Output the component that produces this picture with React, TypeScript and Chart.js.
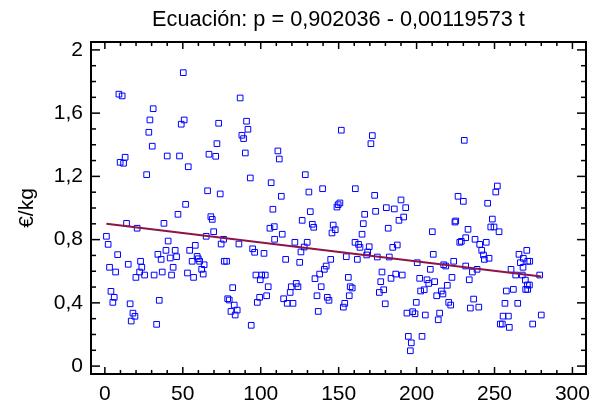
import React, { useEffect, useRef } from "react";
import { Chart, registerables } from "chart.js";

Chart.register(...registerables);

const titleText = "Ecuación: p = 0,902036 - 0,00119573 t";
const yAxisTitle = "€/kg";
const xTickValues = [0, 50, 100, 150, 200, 250, 300];
const yTickValues = [0, 0.4, 0.8, 1.2, 1.6, 2];
const fitIntercept = 0.902036;
const fitSlope = -0.00119573;
const fitRange = [1, 280];

const t1 = [50.3, 9.0, 11.1, 31.0, 28.9, 50.9, 49.0, 28.2, 30.4, 13.0, 9.8, 12.0, 40.0, 47.9, 53.5, 26.8, 51.8, 46.9, 13.9, 37.9, 20.7, 1.0, 2.1, 40.6, 8.2, 34.0, 39.2, 45.1, 36.1, 41.9, 46.0, 54.4, 22.9, 15.0, 3.0, 23.7, 6.9, 22.3, 36.8, 43.8, 25.5, 19.9, 31.6, 42.8, 53.0, 3.9, 6.0, 5.1, 34.9, 16.2, 18.0, 19.3, 16.9, 33.2];
const p1 = [1.856, 1.720, 1.709, 1.628, 1.557, 1.557, 1.530, 1.479, 1.391, 1.321, 1.289, 1.283, 1.329, 1.329, 1.261, 1.211, 1.023, 0.960, 0.903, 0.903, 0.872, 0.821, 0.770, 0.791, 0.705, 0.707, 0.732, 0.732, 0.675, 0.684, 0.692, 0.732, 0.663, 0.644, 0.625, 0.625, 0.595, 0.595, 0.595, 0.625, 0.576, 0.561, 0.576, 0.576, 0.589, 0.473, 0.435, 0.403, 0.416, 0.394, 0.335, 0.315, 0.285, 0.264];

const t2 = [86.8, 73.0, 90.9, 91.8, 87.9, 89.0, 71.9, 66.8, 71.1, 90.1, 93.3, 106.7, 65.9, 74.0, 107.8, 68.0, 68.9, 105.9, 108.7, 69.8, 65.0, 76.2, 108.9, 58.0, 74.6, 86.0, 94.8, 96.1, 102.1, 59.2, 59.9, 60.8, 56.0, 76.6, 78.1, 63.7, 62.1, 63.1, 56.9, 96.9, 100.6, 102.9, 99.7, 104.8, 82.0, 78.8, 79.8, 83.0, 99.3, 103.8, 97.8, 80.9, 84.9, 83.6, 93.9];
const p2 = [1.696, 1.536, 1.549, 1.498, 1.460, 1.439, 1.407, 1.340, 1.327, 1.348, 1.190, 1.160, 1.109, 1.089, 0.992, 0.945, 0.928, 0.872, 0.882, 0.850, 0.821, 0.802, 0.802, 0.764, 0.772, 0.772, 0.742, 0.720, 0.713, 0.694, 0.679, 0.663, 0.663, 0.663, 0.663, 0.641, 0.612, 0.582, 0.561, 0.576, 0.576, 0.576, 0.546, 0.502, 0.496, 0.426, 0.418, 0.386, 0.435, 0.445, 0.403, 0.346, 0.354, 0.323, 0.258];

const t3 = [151.7, 111.0, 111.9, 128.6, 139.7, 130.9, 160.7, 113.2, 150.8, 149.7, 148.9, 131.8, 126.6, 133.1, 134.0, 146.5, 147.8, 145.7, 113.8, 121.9, 129.8, 127.9, 125.8, 116.0, 125.0, 144.9, 154.9, 162.0, 142.0, 140.8, 137.8, 134.8, 122.8, 119.6, 123.9, 138.8, 156.2, 157.4, 158.7, 118.9, 114.7, 117.0, 120.7, 136.1, 142.7, 143.8, 156.8, 153.9, 153.0, 136.9];
const p3 = [1.492, 1.361, 1.310, 1.211, 1.122, 1.101, 1.122, 1.074, 1.032, 1.021, 1.006, 0.977, 0.922, 0.897, 0.878, 0.892, 0.863, 0.842, 0.834, 0.783, 0.783, 0.753, 0.722, 0.675, 0.656, 0.675, 0.692, 0.675, 0.633, 0.612, 0.582, 0.553, 0.523, 0.502, 0.502, 0.502, 0.561, 0.502, 0.494, 0.466, 0.426, 0.397, 0.397, 0.445, 0.435, 0.416, 0.445, 0.397, 0.373, 0.346];

const t4 = [171.6, 170.7, 173.1, 190.0, 193.0, 180.6, 185.7, 173.7, 166.7, 188.7, 191.7, 165.8, 181.8, 210.1, 165.0, 160.5, 162.8, 163.7, 169.6, 168.6, 168.0, 184.7, 187.6, 174.8, 182.5, 210.7, 200.4, 208.8, 217.4, 177.8, 186.6, 190.8, 183.6, 177.0, 202.0, 206.7, 207.8, 211.6, 178.9, 176.1, 202.6, 204.9, 215.9, 216.9, 212.9, 179.9, 199.8, 193.8, 197.5, 199.0, 205.6, 214.8, 213.9, 194.7, 203.5, 196.6, 196.0];
const p4 = [1.458, 1.407, 1.080, 1.051, 1.002, 1.002, 0.994, 0.979, 0.960, 0.922, 0.943, 0.901, 0.872, 0.850, 0.834, 0.783, 0.770, 0.751, 0.755, 0.722, 0.703, 0.751, 0.766, 0.690, 0.690, 0.707, 0.654, 0.612, 0.641, 0.595, 0.582, 0.576, 0.555, 0.534, 0.555, 0.546, 0.523, 0.534, 0.483, 0.466, 0.475, 0.483, 0.475, 0.456, 0.445, 0.394, 0.403, 0.335, 0.344, 0.331, 0.323, 0.335, 0.293, 0.188, 0.188, 0.147, 0.097];

const t5 = [230.6, 251.8, 250.8, 226.6, 230.0, 245.6, 248.6, 225.1, 224.6, 247.6, 249.7, 233.0, 252.9, 231.5, 237.5, 244.7, 228.7, 227.7, 240.5, 241.8, 242.9, 246.5, 243.5, 265.7, 270.7, 223.8, 266.6, 271.3, 218.7, 268.3, 231.5, 238.8, 235.8, 260.6, 263.6, 267.8, 222.7, 233.8, 219.7, 257.6, 262.1, 270.0, 236.6, 220.6, 221.9, 239.9, 234.5, 256.7, 264.9, 255.5, 258.9, 253.7, 255.0, 259.5];
const p5 = [1.428, 1.139, 1.101, 1.074, 1.042, 1.030, 0.930, 0.918, 0.911, 0.880, 0.880, 0.865, 0.850, 0.812, 0.802, 0.783, 0.789, 0.783, 0.770, 0.732, 0.703, 0.682, 0.675, 0.707, 0.732, 0.663, 0.654, 0.663, 0.633, 0.625, 0.633, 0.612, 0.595, 0.612, 0.576, 0.576, 0.561, 0.546, 0.511, 0.475, 0.485, 0.485, 0.424, 0.403, 0.386, 0.373, 0.367, 0.397, 0.397, 0.316, 0.316, 0.266, 0.266, 0.245];

const t6 = [272.6, 268.5, 269.8, 271.1, 272.4, 271.3, 274.5, 279.0, 280.0];
const p6 = [0.663, 0.682, 0.544, 0.513, 0.513, 0.485, 0.266, 0.576, 0.323];

const FONT = "Arial, 'Liberation Sans', sans-serif";

function fmt(v: number): string {
  if (Math.abs(v - Math.round(v)) < 1e-9) return String(Math.round(v));
  return v.toFixed(1).replace(".", ",");
}

export default function App() {
  const canvasRef = useRef<HTMLCanvasElement | null>(null);

  useEffect(() => {
    const canvas = canvasRef.current;
    if (!canvas) return;
    const tAll = [...t1, ...t2, ...t3, ...t4, ...t5, ...t6];
    const pAll = [...p1, ...p2, ...p3, ...p4, ...p5, ...p6];
    const points = tAll.map((t, i) => ({ x: t, y: pAll[i] }));
    const fitPoints = fitRange.map((t) => ({ x: t, y: fitIntercept + fitSlope * t }));

    const framePlugin = {
      id: "framePlugin",
      afterDraw(chart: any) {
        const ctx: CanvasRenderingContext2D = chart.ctx;
        const area = chart.chartArea;
        const xs = chart.scales.x;
        const ys = chart.scales.y;
        const L = Math.round(area.left);
        const R = Math.round(area.right);
        const T = Math.round(area.top);
        const B = Math.round(area.bottom);
        ctx.save();
        ctx.fillStyle = "#000000";
        // frame (2px)
        ctx.fillRect(L - 1, T - 1, R - L + 2, 2);
        ctx.fillRect(L - 1, B - 1, R - L + 2, 2);
        ctx.fillRect(L - 1, T - 1, 2, B - T + 2);
        ctx.fillRect(R - 1, T - 1, 2, B - T + 2);
        // x ticks
        for (let v = 0; v <= 300; v += 10) {
          const px = xs.getPixelForValue(v);
          const len = v % 50 === 0 ? 7 : 4;
          ctx.fillRect(px - 0.75, B - len, 1.5, len);
          ctx.fillRect(px - 0.75, T, 1.5, len);
        }
        // y ticks
        for (let k = 0; k <= 20; k++) {
          const py = ys.getPixelForValue(k / 10);
          const len = k % 4 === 0 ? 9 : 5;
          ctx.fillRect(L, py - 0.75, len, 1.5);
          ctx.fillRect(R - len, py - 0.75, len, 1.5);
        }

        ctx.font = `21.7px ${FONT}`;
        ctx.textAlign = "center";
        ctx.textBaseline = "middle";
        ctx.fillText(titleText, (L + R) / 2, 20);

        ctx.translate(27, (T + B) / 2);
        ctx.rotate(-Math.PI / 2);
        ctx.font = `21px ${FONT}`;
        ctx.fillText(yAxisTitle, 0, 0);
        ctx.restore();
      },
    };

    const chart = new Chart(canvas, {
      type: "scatter",
      data: {
        datasets: [
          {
            type: "line",
            data: fitPoints,
            borderColor: "#8c1446",
            borderWidth: 2,
            pointRadius: 0,
            fill: false,
            order: 0,
          } as any,
          {
            data: points,
            pointStyle: "rect",
            pointRadius: 4,
            pointHoverRadius: 4,
            borderColor: "#0000ff",
            pointBorderColor: "#0000ff",
            borderWidth: 1,
            backgroundColor: "rgba(0,0,0,0)",
            pointBackgroundColor: "rgba(0,0,0,0)",
            showLine: false,
            order: 1,
          } as any,
        ],
      },
      options: {
        animation: false,
        responsive: false,
        devicePixelRatio: 1,
        events: [],
        layout: { padding: { left: 0, right: 6, top: 42, bottom: 0 } },
        plugins: {
          legend: { display: false },
          title: { display: false },
          tooltip: { enabled: false },
        },
        scales: {
          x: {
            type: "linear",
            position: "bottom",
            min: -8.9,
            max: 308.7,
            grid: { display: false, drawTicks: false },
            border: { display: false },
            ticks: {
              color: "#000",
              font: { family: FONT, size: 21 },
              padding: 8,
              maxRotation: 0,
              autoSkip: false,
              callback: (v: any) => fmt(Number(v)),
            },
            afterBuildTicks: (s: any) => {
              s.ticks = xTickValues.map((v) => ({ value: v }));
            },
            afterFit: (s: any) => {
              s.height = 34;
              s.paddingLeft = 0;
              s.paddingRight = 0;
            },
          },
          y: {
            type: "linear",
            position: "left",
            min: -0.05,
            max: 2.05,
            grid: { display: false, drawTicks: false },
            border: { display: false },
            ticks: {
              color: "#000",
              font: { family: FONT, size: 21 },
              padding: 8,
              autoSkip: false,
              callback: (v: any) => fmt(Number(v)),
            },
            afterBuildTicks: (s: any) => {
              s.ticks = yTickValues.map((v) => ({ value: v }));
            },
            afterFit: (s: any) => {
              s.width = 91;
              s.paddingTop = 0;
              s.paddingBottom = 0;
            },
          },
        },
      },
      plugins: [framePlugin],
    } as any);

    return () => {
      chart.destroy();
    };
  }, []);

  return (
    <div style={{ position: "fixed", left: 0, top: 0, width: 592, height: 408, background: "#fff" }}>
      <canvas ref={canvasRef} width={592} height={408} style={{ width: 592, height: 408, display: "block" }} />
    </div>
  );
}
